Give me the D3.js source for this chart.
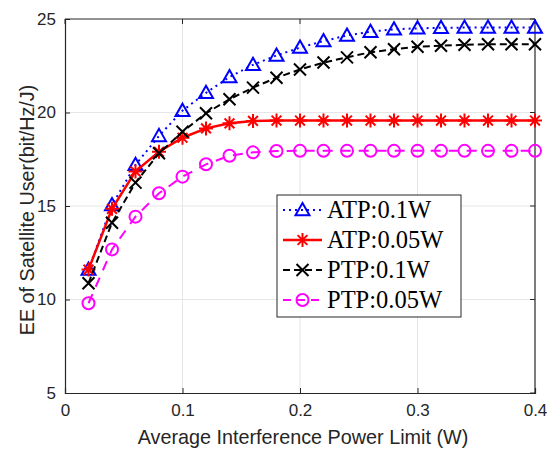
<!DOCTYPE html>
<html>
<head>
<meta charset="utf-8">
<script src="https://cdn.jsdelivr.net/npm/d3@7"></script>
<style>
  body { margin: 0; background: #fff; }
  svg { display: block; }
</style>
</head>
<body>
<svg id="chart" width="547" height="452"></svg>
<script>
// Data
const xValues = [0.02, 0.04, 0.06, 0.08, 0.10, 0.12, 0.14, 0.16, 0.18, 0.20,
                 0.22, 0.24, 0.26, 0.28, 0.30, 0.32, 0.34, 0.36, 0.38, 0.40];
const atp01 = [11.6, 15.05, 17.2, 18.75, 20.1, 21.05, 21.9, 22.55, 23.05, 23.47,
               23.82, 24.12, 24.32, 24.45, 24.5, 24.53, 24.54, 24.55, 24.55, 24.55];
const atp005 = [11.6, 14.85, 16.85, 17.9, 18.65, 19.15, 19.42, 19.55, 19.57, 19.57,
                19.57, 19.57, 19.57, 19.57, 19.57, 19.57, 19.57, 19.57, 19.57, 19.57];
const ptp01 = [10.87, 14.1, 16.25, 17.82, 18.97, 19.96, 20.71, 21.33, 21.86, 22.3,
               22.67, 22.95, 23.22, 23.38, 23.52, 23.57, 23.62, 23.65, 23.65, 23.65];
const ptp005 = [9.8, 12.68, 14.43, 15.68, 16.57, 17.23, 17.69, 17.87, 17.94, 17.95,
                17.95, 17.95, 17.95, 17.95, 17.95, 17.95, 17.95, 17.95, 17.95, 17.95];
const xTicks = [0, 0.1, 0.2, 0.3, 0.4];
const yTicks = [5, 10, 15, 20, 25];
const seriesNames = ["ATP:0.1W", "ATP:0.05W", "PTP:0.1W", "PTP:0.05W"];

const series = [
  { name: seriesNames[0], values: atp01, color: "#0000ff", dash: "2,4", marker: "triangle", width: 2 },
  { name: seriesNames[1], values: atp005, color: "#ff0000", dash: null, marker: "star", width: 2.5 },
  { name: seriesNames[2], values: ptp01, color: "#000000", dash: "7,4", marker: "cross", width: 2 },
  { name: seriesNames[3], values: ptp005, color: "#ff00ff", dash: "10,8", marker: "circle", width: 2 }
];

const svg = d3.select("#chart");
const plotL = 65, plotR = 535, plotT = 19, plotB = 393;

const x = d3.scaleLinear().domain([0, 0.4]).range([plotL, plotR]);
const y = d3.scaleLinear().domain([5, 25]).range([plotB, plotT]);

const axisColor = "#262626";
const fontSans = "Liberation Sans, Arial, sans-serif";

// Grid
svg.append("g").selectAll("line").data(xTicks.slice(1, -1)).join("line")
  .attr("x1", d => x(d)).attr("x2", d => x(d))
  .attr("y1", plotT).attr("y2", plotB)
  .attr("stroke", "#e6e6e6").attr("stroke-width", 1);
svg.append("g").selectAll("line").data(yTicks.slice(1, -1)).join("line")
  .attr("x1", plotL).attr("x2", plotR)
  .attr("y1", d => y(d)).attr("y2", d => y(d))
  .attr("stroke", "#e6e6e6").attr("stroke-width", 1);

// Axes
const xAxis = svg.append("g")
  .attr("transform", `translate(0,${plotB})`)
  .call(d3.axisBottom(x).tickValues(xTicks).tickSize(-5).tickPadding(11)
    .tickFormat(d => d === 0 ? "0" : d3.format(".1f")(d)));
const yAxis = svg.append("g")
  .attr("transform", `translate(${plotL},0)`)
  .call(d3.axisLeft(y).tickValues(yTicks).tickSize(-5).tickPadding(9));

[xAxis, yAxis].forEach(g => {
  g.select(".domain").attr("stroke", axisColor).attr("stroke-width", 1.2);
  g.selectAll(".tick line").attr("stroke", axisColor);
  g.selectAll(".tick text").attr("fill", axisColor)
    .style("font-family", fontSans).style("font-size", "17px");
});

// Top and right borders with inward ticks
svg.append("line").attr("x1", plotL).attr("x2", plotR).attr("y1", plotT).attr("y2", plotT)
  .attr("stroke", axisColor).attr("stroke-width", 1.2);
svg.append("line").attr("x1", plotR).attr("x2", plotR).attr("y1", plotT).attr("y2", plotB)
  .attr("stroke", axisColor).attr("stroke-width", 1.2);
svg.append("g").selectAll("line").data(xTicks).join("line")
  .attr("x1", d => x(d)).attr("x2", d => x(d)).attr("y1", plotT).attr("y2", plotT + 5)
  .attr("stroke", axisColor);
svg.append("g").selectAll("line").data(yTicks).join("line")
  .attr("x1", plotR - 5).attr("x2", plotR).attr("y1", d => y(d)).attr("y2", d => y(d))
  .attr("stroke", axisColor);

// Axis labels
svg.append("text")
  .attr("x", (plotL + plotR) / 2 + 3).attr("y", 444)
  .attr("text-anchor", "middle").attr("fill", axisColor)
  .style("font-family", fontSans).style("font-size", "19.8px")
  .text("Average Interference Power Limit (W)");
svg.append("text")
  .attr("transform", `translate(34,${(plotT + plotB) / 2 + 4}) rotate(-90)`)
  .attr("text-anchor", "middle").attr("fill", axisColor)
  .style("font-family", fontSans).style("font-size", "19.8px")
  .text("EE of Satellite User(bit/Hz/J)");

// Marker drawing
function drawMarker(g, type, color, cx, cy) {
  if (type === "triangle") {
    const s = 7;
    g.append("path")
      .attr("d", `M${cx},${cy - s} L${cx + s},${cy + s * 0.75} L${cx - s},${cy + s * 0.75} Z`)
      .attr("fill", "none").attr("stroke", color).attr("stroke-width", 2);
  } else if (type === "circle") {
    g.append("circle").attr("cx", cx).attr("cy", cy).attr("r", 6)
      .attr("fill", "none").attr("stroke", color).attr("stroke-width", 2);
  } else if (type === "cross") {
    const s = 6;
    g.append("path")
      .attr("d", `M${cx - s},${cy - s} L${cx + s},${cy + s} M${cx - s},${cy + s} L${cx + s},${cy - s}`)
      .attr("stroke", color).attr("stroke-width", 2);
  } else if (type === "star") {
    const s = 7, d = s * 0.7;
    g.append("path")
      .attr("d", `M${cx - s},${cy} L${cx + s},${cy} M${cx},${cy - s} L${cx},${cy + s}` +
        ` M${cx - d},${cy - d} L${cx + d},${cy + d} M${cx - d},${cy + d} L${cx + d},${cy - d}`)
      .attr("stroke", color).attr("stroke-width", 2);
  }
}

// Lines and markers
const line = d3.line().x((d, i) => x(xValues[i])).y(d => y(d));
series.forEach(s => {
  svg.append("path")
    .datum(s.values)
    .attr("d", line)
    .attr("fill", "none")
    .attr("stroke", s.color)
    .attr("stroke-width", s.width)
    .attr("stroke-dasharray", s.dash);
  const mg = svg.append("g");
  s.values.forEach((v, i) => drawMarker(mg, s.marker, s.color, x(xValues[i]), y(v)));
});

// Legend
const lg = svg.append("g");
lg.append("rect").attr("x", 277).attr("y", 195).attr("width", 184).attr("height", 122)
  .attr("fill", "#fff").attr("stroke", axisColor).attr("stroke-width", 1);
series.forEach((s, i) => {
  const ly = 210 + i * 30;
  lg.append("line").attr("x1", 283).attr("x2", 322).attr("y1", ly).attr("y2", ly)
    .attr("stroke", s.color).attr("stroke-width", s.width)
    .attr("stroke-dasharray", s.dash ? (s.marker === "circle" ? "8,6" : s.dash) : null);
  drawMarker(lg, s.marker, s.color, 302.5, ly);
  lg.append("text").attr("x", 327).attr("y", ly + 8)
    .attr("fill", "#000")
    .style("font-family", "Liberation Serif, Times New Roman, serif")
    .style("font-size", "24.5px")
    .text(s.name);
});
</script>
</body>
</html>
